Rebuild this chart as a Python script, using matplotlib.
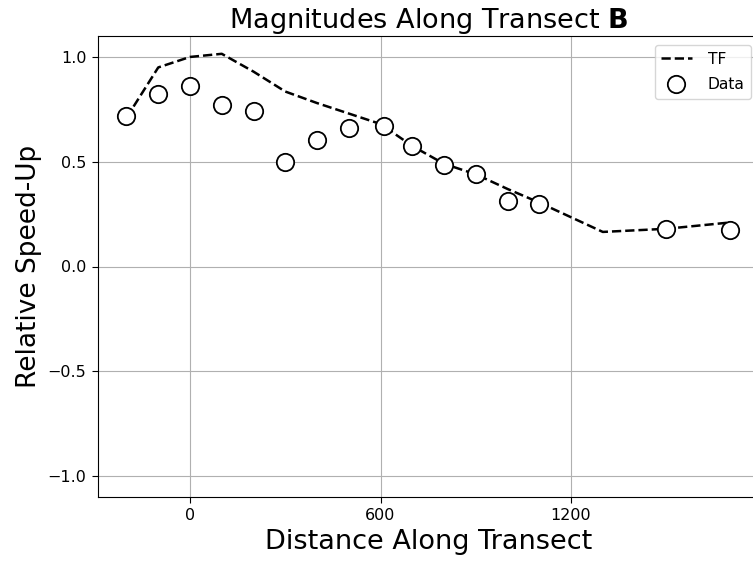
import matplotlib.pyplot as plt

# transfer function curve
tf_x = [-200, -100, 0, 100, 200, 300, 400, 500, 600, 700, 800, 900, 1000, 1100, 1300, 1500, 1700]
tf_y = [0.71, 0.95, 1.0, 1.015, 0.93, 0.835, 0.78, 0.73, 0.68, 0.575, 0.49, 0.44, 0.37, 0.305, 0.165, 0.18, 0.21]

# measured points
data_x = [-200, -100, 0, 100, 200, 300, 400, 500, 610, 700, 800, 900, 1000, 1100, 1500, 1700]
data_y = [0.72, 0.823, 0.86, 0.77, 0.743, 0.50, 0.603, 0.66, 0.67, 0.576, 0.485, 0.44, 0.313, 0.30, 0.177, 0.174]

x_ticks = [0, 600, 1200]
y_ticks = [-1.0, -0.5, 0.0, 0.5, 1.0]

W, H = 753, 563
fig = plt.figure(figsize=(W / 100, H / 100), dpi=100)
ax = fig.add_axes([97.6 / W, (H - 497) / H, (760 - 97.6) / W, (497 - 36) / H])

ax.plot(tf_x, tf_y, color="black", linestyle="--", linewidth=1.8, label="TF")
ax.plot(data_x, data_y, linestyle="none", marker="o", markersize=12.5,
        markerfacecolor="white", markeredgecolor="black", markeredgewidth=1.3,
        label="Data")

ax.set_xlim(-291, 1795)
ax.set_ylim(-1.1, 1.1)
ax.set_xticks(x_ticks)
ax.set_yticks(y_ticks)
ax.tick_params(labelsize=11.5, length=4.5)
ax.grid(True, color="#b0b0b0", linewidth=0.8)
ax.set_axisbelow(True)

ax.set_title(r"Magnitudes Along Transect $\mathbf{B}$", fontsize=19.5, pad=5)
ax.set_xlabel("Distance Along Transect", fontsize=19.5)
ax.set_ylabel("Relative Speed-Up", fontsize=19)
ax.legend(loc="upper right", fontsize=11.2, borderaxespad=0.6,
          handletextpad=1.0, labelspacing=0.7)

fig.savefig("out.png", dpi=100)
